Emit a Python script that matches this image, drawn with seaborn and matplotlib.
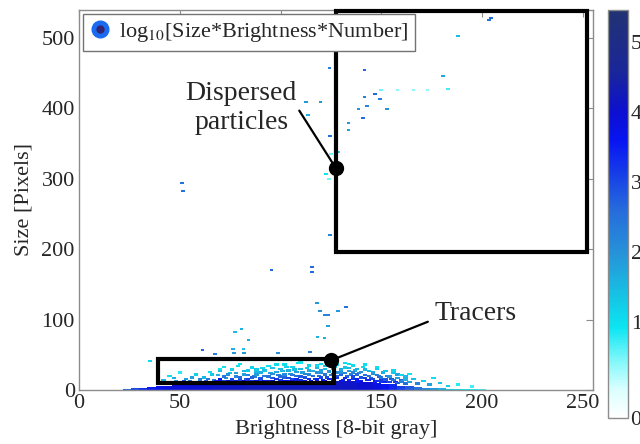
import numpy as np
import pandas as pd
import matplotlib
matplotlib.use("Agg")
import matplotlib.pyplot as plt
import seaborn as sns
from matplotlib.colors import LinearSegmentedColormap, Normalize
from matplotlib.patches import Rectangle
from matplotlib.lines import Line2D
from matplotlib.legend_handler import HandlerTuple

# ---------------- data ----------------
# dense core band (brightness column centre, top size, log10 value)
band_b = list(range(24, 204, 4))
band_top = [1.5, 2.5, 3.5, 4.5, 5.5, 6, 6.5, 7, 7, 7.5,
            8, 8, 8.5, 9, 9, 9.5, 10, 10, 10.5, 11,
            11, 11.5, 12, 12, 12.5, 13, 13, 13, 12.5, 12,
            11, 10, 9, 8, 6, 5, 4, 3.5, 3, 2.5,
            2, 2, 1.5, 1.5, 1]
band_level = [2.6, 3.0, 3.3, 3.5, 3.7, 3.8, 3.9, 3.9, 4.0, 4.0,
              4.0, 4.1, 4.1, 4.1, 4.1, 4.2, 4.2, 4.2, 4.2, 4.2,
              4.2, 4.2, 4.2, 4.2, 4.2, 4.2, 4.2, 4.1, 4.1, 4.0,
              4.0, 3.8, 3.6, 3.4, 3.1, 2.8, 2.5, 2.2, 1.9, 1.6,
              1.3, 1.1, 0.9, 0.8, 0.7]

# fringe cells above the core (first set)
fringe_b = [42, 45, 48, 50, 53, 55, 58, 60,
            62, 63, 65, 67, 69, 70, 72, 73, 75, 76, 78, 79, 80,
            82, 83, 84, 86, 87, 88, 90, 91, 92, 94, 95, 96, 98, 99, 100,
            101, 102, 103, 104, 105, 106, 107, 108, 109, 110, 111, 112, 113, 114,
            115, 116, 117, 118, 119, 120, 121, 122, 123, 124, 125, 126, 127, 128,
            130, 131, 132, 133, 134, 135, 136, 137, 138, 139, 140, 141, 142, 143,
            144, 145, 146, 147, 148, 149, 150, 151, 152, 153, 155, 156, 157, 158,
            160, 162, 164, 166, 168, 171, 174, 176, 179, 183, 188, 195,
            44, 47, 52, 56, 59, 64, 66, 68]
fringe_s = [14, 20, 13, 25, 16, 12, 22, 15,
            18, 12, 26, 14, 21, 30, 13, 17, 24, 12, 19, 34, 14,
            22, 16, 28, 13, 19, 25, 15, 31, 20, 13, 24, 17, 36, 21, 14,
            27, 18, 33, 12, 23, 16, 29, 20, 38, 14, 25, 18, 31, 22,
            13, 27, 16, 35, 20, 24, 14, 30, 18, 26, 21, 15, 33, 19,
            25, 14, 32, 19, 37, 22, 16, 28, 12, 24, 18, 33, 21, 14,
            27, 17, 23, 12, 30, 19, 15, 25, 12, 20, 16, 28, 11, 22,
            14, 19, 11, 16, 9, 13, 8, 17, 10, 6, 8, 5,
            11, 17, 12, 18, 11, 16, 22, 12]
fringe_v = [1.5, 1.0, 2.0, 0.8, 1.8, 2.5, 1.2, 2.2,
            1.5, 2.8, 1.0, 2.5, 1.6, 0.9, 3.0, 2.0, 1.4, 3.2, 2.2, 1.0, 3.0,
            1.8, 2.6, 1.3, 3.2, 2.4, 1.5, 3.0, 1.1, 2.3, 3.4, 1.8, 2.8, 1.0, 2.2, 3.3,
            1.5, 2.7, 1.2, 3.5, 2.0, 3.0, 1.4, 2.5, 1.0, 3.4, 1.8, 2.9, 1.3, 2.2,
            3.6, 1.6, 3.1, 1.1, 2.6, 2.0, 3.5, 1.4, 2.9, 1.7, 2.4, 3.3, 1.2, 2.8,
            2.0, 3.4, 1.3, 2.7, 1.0, 2.3, 3.2, 1.6, 3.6, 2.1, 2.9, 1.1, 2.5, 3.3,
            1.5, 2.8, 2.0, 3.5, 1.2, 2.6, 3.1, 1.6, 3.4, 2.2, 2.8, 1.1, 3.2, 1.8,
            2.6, 1.5, 2.4, 1.4, 2.2, 1.2, 1.8, 1.0, 1.3, 1.2, 0.8, 0.7,
            2.8, 1.6, 3.0, 1.8, 3.2, 2.4, 1.3, 3.4]

# fringe cells (second, denser set right of brightness 70)
fringe2_b = [70, 70, 72, 72, 74, 74, 76, 76, 78, 78, 80, 80, 82, 82, 84, 84,
             86, 86, 88, 88, 88, 90, 90, 92, 92, 94, 94, 96, 96, 96, 98, 98,
             100, 100, 102, 102, 102, 104, 104, 106, 106, 106, 108, 108,
             110, 110, 110, 112, 112, 114, 114, 114, 116, 116, 118, 118, 118,
             120, 120, 120, 122, 122, 122, 124, 124, 124, 126, 126, 126,
             128, 128, 128, 130, 130, 130, 132, 132, 132, 134, 134, 134,
             136, 136, 136, 138, 138, 138, 140, 140, 142, 142, 142, 144, 144,
             146, 146, 148, 148, 148, 150, 150, 152, 152, 154, 154, 156, 156,
             158, 158, 160, 160, 162, 162, 164, 164]
fringe2_s = [15, 27, 19, 33, 12, 22, 16, 29, 13, 24, 18, 37, 12, 27, 15, 21,
             18, 32, 12, 22, 29, 17, 25, 13, 28, 19, 34, 12, 23, 31, 16, 26,
             19, 30, 13, 22, 36, 17, 28, 12, 21, 33, 15, 26,
             19, 30, 39, 13, 23, 16, 28, 35, 11, 20, 15, 25, 31,
             18, 28, 37, 12, 22, 34, 16, 27, 40, 13, 23, 30,
             17, 25, 36, 13, 21, 29, 17, 24, 38, 14, 27, 31,
             19, 25, 35, 15, 22, 30, 13, 26, 17, 29, 36, 14, 20,
             16, 26, 13, 21, 33, 12, 18, 15, 27, 11, 19, 14, 24,
             10, 17, 12, 21, 9, 15, 11, 23]
fringe2_v = [3.6, 1.4, 2.4, 1.0, 3.8, 2.0, 3.0, 1.2, 3.5, 1.8, 2.6, 0.9, 3.7, 1.5, 3.1, 2.2,
             2.7, 1.2, 3.8, 1.9, 1.3, 2.9, 1.6, 3.6, 1.4, 2.5, 1.0, 3.8, 2.0, 1.3, 3.2, 1.7,
             2.6, 1.4, 3.7, 2.1, 1.0, 3.0, 1.6, 3.8, 2.4, 1.2, 3.4, 1.8,
             2.8, 1.5, 0.9, 3.7, 2.2, 3.3, 1.7, 1.2, 3.9, 2.6, 3.5, 2.0, 1.5,
             3.0, 1.8, 1.1, 3.8, 2.5, 1.3, 3.4, 2.0, 0.9, 3.7, 2.4, 1.6,
             3.2, 2.1, 1.2, 3.8, 2.7, 1.7, 3.3, 2.2, 1.0, 3.6, 1.9, 1.5,
             3.0, 2.2, 1.1, 3.5, 2.6, 1.6, 3.7, 2.0, 3.1, 1.5, 1.0, 3.4, 2.6,
             3.0, 1.7, 3.3, 2.3, 1.0, 3.2, 2.5, 2.8, 1.3, 3.1, 2.0, 2.5, 1.3,
             2.8, 1.8, 2.2, 1.1, 2.6, 1.6, 1.8, 0.9]

# isolated cells
iso_b = [51, 51.5, 95.6, 115.5, 115.5, 124.6, 122.6, 128.7,
         118, 119.6, 122, 123.5, 128.6, 132.5, 123.4, 118.3, 121.8,
         77.4, 80.6, 84.1, 76.5, 81.7, 77, 82,
         35.3, 61.3, 67.4, 98.6, 114.6,
         204.3, 203.3, 188, 124.3, 141.6, 180.6, 183,
         147, 141.6, 149.4, 142.8, 138.7, 152.7, 140.8,
         133.7, 133.7, 124.6, 112.7, 119.8, 113.5,
         150, 158, 166, 173, 125, 124]
iso_s = [294, 283, 170.5, 175, 167, 220, 307, 338,
         123, 112, 107, 107, 112, 117.5, 90.5, 75.7, 74,
         83, 86.6, 71.4, 58.7, 58.7, 52, 52,
         41, 57, 50.6, 52, 54,
         529, 526, 503, 458, 455, 446, 428,
         420, 416, 413, 403, 398.6, 398.6, 386.8,
         380, 369, 361, 409.5, 409.5, 390.6,
         426, 426, 426, 426, 335, 300]
iso_v = [2.5, 2.5, 2.6, 2.6, 2.6, 2.2, 0.9, 1.3,
         1.9, 2.0, 2.2, 2.2, 1.9, 2.5, 1.8, 1.6, 1.6,
         1.4, 1.6, 1.6, 1.6, 1.4, 1.9, 1.9,
         1.1, 2.6, 2.3, 2.0, 2.3,
         2.6, 2.5, 1.4, 2.2, 2.6, 1.7, 0.7,
         2.6, 2.2, 2.3, 2.2, 2.0, 2.0, 2.6,
         1.9, 1.8, 2.5, 1.9, 1.9, 1.6,
         0.5, 0.4, 0.4, 0.4, 0.5, 0.5]

x_ticks = [0, 50, 100, 150, 200, 250]
y_ticks = [0, 100, 200, 300, 400, 500]
cbar_ticks = [1, 2, 3, 4, 5]

# annotation geometry (data units)
tracer_box = (39, 10.5, 126.4, 44)
dispersed_box = (127.7, 196.7, 252.1, 538.5)

# ---------------- style ----------------
sns.set_theme(style="white")
plt.rcParams["font.family"] = ["Liberation Serif", "DejaVu Serif"]
plt.rcParams["mathtext.fontset"] = "stix"

cmap = LinearSegmentedColormap.from_list("bw", [
    (0.0, (1.0, 1.0, 1.0)),
    (0.07, (0.85, 1.0, 1.0)),
    (0.14, (0.5, 0.97, 0.98)),
    (0.22, (0.05, 0.9, 0.95)),
    (0.29, (0.08, 0.78, 0.9)),
    (0.40, (0.15, 0.58, 0.85)),
    (0.51, (0.15, 0.42, 0.86)),
    (0.58, (0.1, 0.28, 0.9)),
    (0.68, (0.03, 0.08, 0.95)),
    (0.75, (0.05, 0.06, 0.82)),
    (0.85, (0.1, 0.15, 0.6)),
    (1.0, (0.13, 0.2, 0.45)),
])
norm = Normalize(vmin=-0.37, vmax=5.46)

fig = plt.figure(figsize=(6.4, 4.44), dpi=100)
ax = fig.add_axes([0.1234, 0.1216, 0.803, 0.856])
cax = fig.add_axes([0.95, 0.0586, 0.031, 0.919])

# core band
ax.bar(band_b, band_top, width=4, color=[cmap(norm(v)) for v in band_level],
       linewidth=0, zorder=2)

rect_marker = [(-1, -0.55), (1, -0.55), (1, 0.55), (-1, 0.55), (-1, -0.55)]
fringe = pd.DataFrame({"b": fringe_b + fringe2_b,
                       "s": fringe_s + fringe2_s,
                       "v": fringe_v + fringe2_v})
iso = pd.DataFrame({"b": iso_b, "s": iso_s, "v": iso_v})
sns.scatterplot(data=fringe, x="b", y="s", hue="v", palette=cmap, hue_norm=norm,
                marker=rect_marker, s=10, linewidth=0, legend=False, ax=ax, zorder=3)
sns.scatterplot(data=iso, x="b", y="s", hue="v", palette=cmap, hue_norm=norm,
                marker=rect_marker, s=7, linewidth=0, legend=False, ax=ax, zorder=3)

# boxes
x0, y0, x1, y1 = tracer_box
ax.add_patch(Rectangle((x0, y0), x1 - x0, y1 - y0, fill=False, lw=3,
                       ec="black", zorder=5))
x0, y0, x1, y1 = dispersed_box
ax.add_patch(Rectangle((x0, y0), x1 - x0, y1 - y0, fill=False, lw=3,
                       ec="black", zorder=5, clip_on=False))

# annotations
ax.plot([109.3, 127.5], [397, 315], color="black", lw=1.6, zorder=6)
ax.plot([127.5], [315], "o", color="black", ms=10, zorder=7)
ax.text(80.5, 401, "Dispersed\nparticles", ha="center", va="center",
        fontsize=20, linespacing=1.2, zorder=8)
ax.plot([173.1, 125], [97, 42], color="black", lw=1.6, zorder=6)
ax.plot([125], [42], "o", color="black", ms=10, zorder=7)
ax.text(197, 108, "Tracers", ha="center", va="center", fontsize=20, zorder=8)

# axes
ax.set_xlim(0, 255)
ax.set_ylim(0, 540)
ax.set_xticks(x_ticks)
ax.set_yticks(y_ticks)
ax.tick_params(direction="in", length=5, color="0.55", width=0.8,
               labelsize=16, top=True, right=True, pad=3)
for sp in ax.spines.values():
    sp.set_color("0.55")
    sp.set_linewidth(1)
ax.set_xlabel("Brightness [8-bit gray]", fontsize=16, labelpad=5)
ax.set_ylabel("Size [Pixels]", fontsize=16, labelpad=6)

# legend
h_outer = Line2D([], [], ls="none", marker="o", ms=12, mfc=(0.1, 0.42, 0.95),
                 mec=(0.1, 0.42, 0.95))
h_inner = Line2D([], [], ls="none", marker="o", ms=5, mfc=(0.2, 0.15, 0.45),
                 mec=(0.2, 0.15, 0.45))
leg = ax.legend([(h_outer, h_inner)], [r"log$_{10}$[Size*Brightness*Number]"],
                handler_map={tuple: HandlerTuple(ndivide=1, pad=0)},
                loc="upper left", fontsize=16, frameon=True, fancybox=False,
                framealpha=1, edgecolor="0.45", borderaxespad=0.2,
                handlelength=0.9, handletextpad=0.4, borderpad=0.3)
leg.get_frame().set_linewidth(1)
leg.set_zorder(9)

# colorbar
sm = plt.cm.ScalarMappable(cmap=cmap, norm=norm)
cb = fig.colorbar(sm, cax=cax)
cb.set_ticks([norm.vmin] + cbar_ticks)
cb.set_ticklabels(["0"] + [str(t) for t in cbar_ticks])
cb.ax.tick_params(labelsize=16, length=0, pad=2)
cb.outline.set_edgecolor("0.55")
cb.outline.set_linewidth(1)

fig.savefig("out.png", dpi=100)
